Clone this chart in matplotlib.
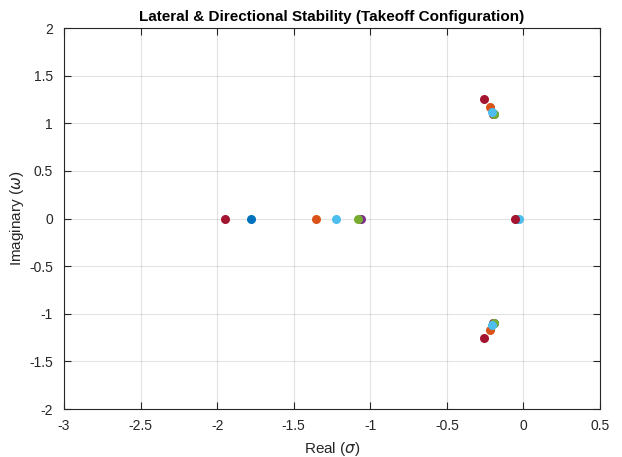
import matplotlib
matplotlib.use("Agg")
import matplotlib.pyplot as plt

plt.rcParams['font.family'] = ['Liberation Sans', 'DejaVu Sans']
plt.rcParams['mathtext.fontset'] = 'dejavusans'

# MATLAB default colour order
colors = ['#0072BD', '#D95319', '#EDB120', '#7E2F8E', '#77AC30', '#4DBEEE', '#A2142F']

# roll, spiral and dutch-roll poles for each case
roll = [-1.78, -1.355, -1.07, -1.06, -1.08, -1.225, -1.949]
spiral = [-0.040, -0.045, -0.040, -0.040, -0.040, -0.030, -0.055]
dutch_re = [-0.195, -0.218, -0.197, -0.196, -0.194, -0.203, -0.255]
dutch_im = [1.100, 1.169, 1.100, 1.100, 1.095, 1.120, 1.257]

fig = plt.figure(figsize=(6.22, 4.57), dpi=100)
ax = fig.add_axes([0.1029, 0.105, 0.8617, 0.8337])

for i, c in enumerate(colors):
    re = [roll[i], spiral[i], dutch_re[i], dutch_re[i]]
    im = [0, 0, dutch_im[i], -dutch_im[i]]
    ax.plot(re, im, 'o', color=c, markersize=6.5, markeredgewidth=0)

ax.set_xlim(-3, 0.5)
ax.set_ylim(-2, 2)
ax.set_xticks([-3, -2.5, -2, -1.5, -1, -0.5, 0, 0.5])
ax.set_xticklabels(['-3', '-2.5', '-2', '-1.5', '-1', '-0.5', '0', '0.5'])
ax.set_yticks([-2, -1.5, -1, -0.5, 0, 0.5, 1, 1.5, 2])
ax.set_yticklabels(['-2', '-1.5', '-1', '-0.5', '0', '0.5', '1', '1.5', '2'])
ax.grid(True, color='#262626', alpha=0.13, linewidth=0.8)
ax.tick_params(axis='x', pad=7)
ax.tick_params(axis='y', pad=8)
ax.tick_params(direction='in', top=True, right=True, labelsize=10, colors='#262626', length=5)
for s in ax.spines.values():
    s.set_color('#262626')
    s.set_linewidth(0.8)

ax.set_xlabel('Real ($\\sigma$)', fontsize=11, color='#262626', labelpad=5)
ax.set_ylabel('Imaginary ($\\omega$)', fontsize=11, color='#262626', labelpad=2)
ax.set_title('Lateral & Directional Stability (Takeoff Configuration)', fontsize=11,
             fontweight='bold', pad=5)

fig.savefig('out.png', dpi=100)
